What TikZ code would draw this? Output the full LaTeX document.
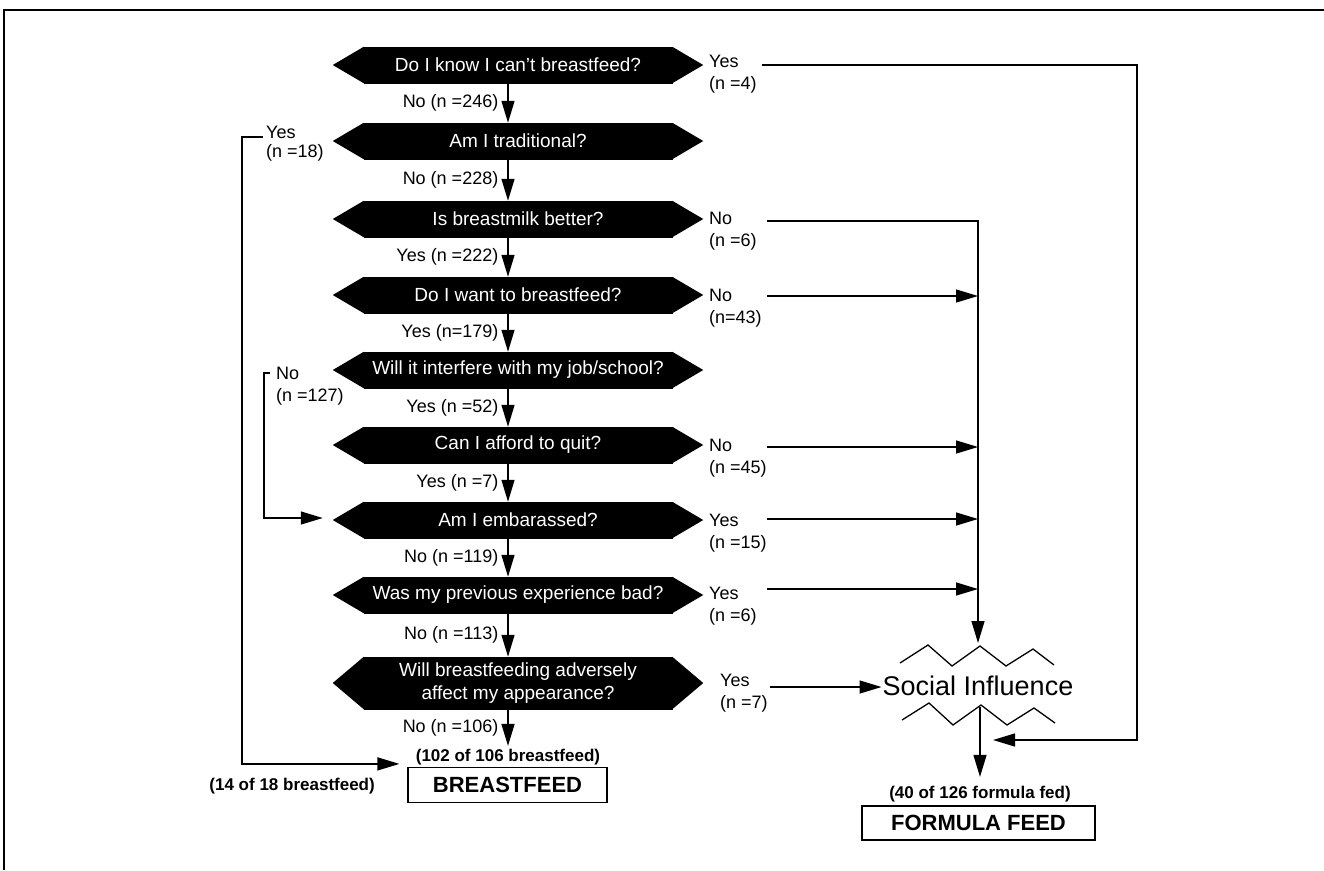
\documentclass[tikz,border=0pt]{standalone}
\usepackage{fontspec}
\setmainfont{Liberation Sans}
\usetikzlibrary{arrows.meta,calc}
\tikzset{
  qbox/.style={fill=black, draw=black, line width=0.5pt, text=white, minimum width=308pt, minimum height=36pt, inner sep=0pt, align=center, font=\fontsize{19}{23}\selectfont},
  lab/.style={font=\fontsize{18}{22}\selectfont, inner sep=0pt, align=left},
  blab/.style={font=\bfseries\fontsize{17}{20}\selectfont, inner sep=0pt},
  conn/.style={line width=1.4pt},
  arr/.style={conn, -{Triangle[length=22pt,width=13pt]}},
  outbox/.style={draw, line width=1.2pt, font=\bfseries\fontsize{22}{26}\selectfont, minimum height=35pt, inner sep=0pt},
  zig/.style={line width=1.3pt, line join=miter}
}
\begin{document}
\begin{tikzpicture}[x=1pt,y=-1pt]
\useasboundingbox[fill=white] (0,0) rectangle (1324,870);
\draw[line width=2.5pt] (1324,10) -- (4,10) -- (4,870);

% questions
\node[qbox] (q1) at (518,65) {Do I know I can't breastfeed?};
\node[qbox] (q2) at (518,141) {Am I traditional?};
\node[qbox] (q3) at (518,219) {Is breastmilk better?};
\node[qbox] (q4) at (518,295) {Do I want to breastfeed?};
\node[qbox] (q5) at (518,370) {Will it interfere with my job/school?};
\node[qbox] (q6) at (518,445) {Can I afford to quit?};
\node[qbox] (q7) at (518,520) {Am I embarassed?};
\node[qbox] (q8) at (518,595) {Was my previous experience bad?};
\node[qbox, minimum height=52pt] (q9) at (518,683) {Will breastfeeding adversely\\affect my appearance?};
\foreach \n in {q1,q2,q3,q4,q5,q6,q7,q8,q9}
  \fill (\n.north west) -- ([xshift=-31pt]\n.west) -- (\n.south west) -- cycle
        (\n.north east) -- ([xshift=31pt]\n.east) -- (\n.south east) -- cycle;

% down arrows
\draw[arr] ([xshift=-10pt]q1.south) -- node[lab, left=9pt]{No (n =246)} ([xshift=-10pt]q2.north);
\draw[arr] ([xshift=-10pt]q2.south) -- node[lab, left=9pt]{No (n =228)} ([xshift=-10pt]q3.north);
\draw[arr] ([xshift=-10pt]q3.south) -- node[lab, left=9pt]{Yes (n =222)} ([xshift=-10pt]q4.north);
\draw[arr] ([xshift=-10pt]q4.south) -- node[lab, left=9pt]{Yes (n=179)} ([xshift=-10pt]q5.north);
\draw[arr] ([xshift=-10pt]q5.south) -- node[lab, left=9pt]{Yes (n =52)} ([xshift=-10pt]q6.north);
\draw[arr] ([xshift=-10pt]q6.south) -- node[lab, left=9pt]{Yes (n =7)} ([xshift=-10pt]q7.north);
\draw[arr] ([xshift=-10pt]q7.south) -- node[lab, left=9pt]{No (n =119)} ([xshift=-10pt]q8.north);
\draw[arr] ([xshift=-10pt]q8.south) -- node[lab, left=9pt]{No (n =113)} ([xshift=-10pt]q9.north);

% breastfeed outcome
\node[blab] (bflab) at (508,757) {(102 of 106 breastfeed)};
\node[outbox, minimum width=199pt] (bf) at (507.5,785) {BREASTFEED};
\node[blab, anchor=east] (bf14) at (375,786) {(14 of 18 breastfeed)};
\draw[arr] ([xshift=-10pt]q9.south) -- node[lab, left=9pt]{No (n =106)} ([yshift=3pt]bflab.north);

% left branches
\node[lab, anchor=west] (l2) at (266,144) {Yes\\[-3pt](n =18)};
\coordinate (y18) at (263,137);
\draw[arr] (y18) -- ++(-21,0) |- ([xshift=-8pt,yshift=3pt]bf.north west);
\node[lab, anchor=west] (l5) at (276,386) {No\\(n =127)};
\coordinate (n127) at (270,373);
\draw[arr] (n127) -- ++(-6,0) |- ([xshift=-41pt,yshift=2pt]q7.west);

% right labels
\node[lab, anchor=west] (l1) at (709,74) {Yes\\(n =4)};
\node[lab, anchor=west] (l3) at (709,231) {No\\(n =6)};
\node[lab, anchor=west] (l4) at (709,308) {No\\(n=43)};
\node[lab, anchor=west] (l6) at (709,458) {No\\(n =45)};
\node[lab, anchor=west] (l7) at (709,533) {Yes\\(n =15)};
\node[lab, anchor=west] (l8) at (709,606) {Yes\\(n =6)};
\node[lab, anchor=west] (l9) at (720,693) {Yes\\(n =7)};

% social influence
\node[font=\fontsize{27}{30}\selectfont, inner sep=1pt] (si) at (978,686) {Social Influence};
\draw[zig] ($(si)+(-78,-23)$) -- ++(28,-18) -- ++(24,21) -- ++(28,-20) -- ++(26,20) -- ++(27,-17) -- ++(21,16);
\draw[zig] ($(si)+(-76,34)$) -- ++(27,-17) -- ++(24,22) -- ++(28,-20) -- ++(26,20) -- ++(27,-17) -- ++(21,15);

\coordinate (sitop) at (978,643);
\coordinate (sibot) at (980,707);
\coordinate (s1) at (762,65);
\coordinate (rt) at (993,740);
\coordinate (s3) at (767,221);
\coordinate (s4) at (767,296);
\coordinate (s6) at (767,447);
\coordinate (s7) at (767,519);
\coordinate (s8) at (767,589);
\coordinate (s9) at (770,687);

\draw[arr] (s1) -| (1137,740) -- (rt);
\draw[arr] (s3) -| (sitop);
\draw[arr] (s4) -- (s4 -| sitop);
\draw[arr] (s6) -- (s6 -| sitop);
\draw[arr] (s7) -- (s7 -| sitop);
\draw[arr] (s8) -- (s8 -| sitop);
\draw[arr] (s9) -- (s9 -| si.west);

% formula outcome
\node[blab] (fflab) at (980,794) {(40 of 126 formula fed)};
\node[outbox, minimum width=233pt, minimum height=34pt] (ff) at (978.5,823) {FORMULA FEED};
\draw[arr] (sibot) -- ([yshift=9pt]fflab.north);
\end{tikzpicture}
\end{document}
